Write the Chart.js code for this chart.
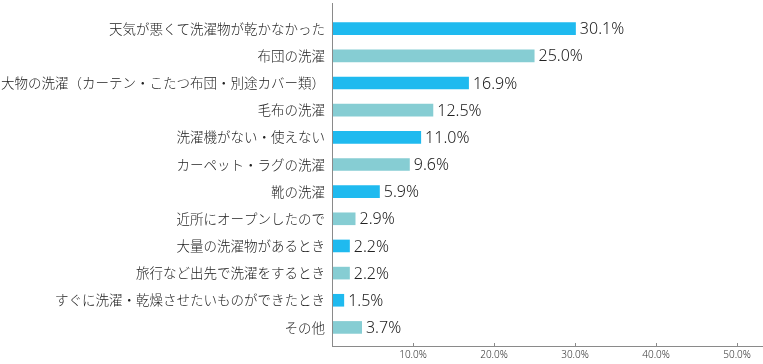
<!DOCTYPE html>
<html>
<head>
<meta charset="utf-8">
<script src="https://cdn.jsdelivr.net/npm/chart.js@4/dist/chart.umd.min.js"></script>
<style>
html,body{margin:0;padding:0;background:#fff;}
#wrap{width:763px;height:364px;position:relative;}
</style>
</head>
<body>
<div id="wrap"><canvas id="c" width="763" height="364"></canvas></div>
<script>
const categories = [
  "天気が悪くて洗濯物が乾かなかった",
  "布団の洗濯",
  "大物の洗濯（カーテン・こたつ布団・別途カバー類）",
  "毛布の洗濯",
  "洗濯機がない・使えない",
  "カーペット・ラグの洗濯",
  "靴の洗濯",
  "近所にオープンしたので",
  "大量の洗濯物があるとき",
  "旅行など出先で洗濯をするとき",
  "すぐに洗濯・乾燥させたいものができたとき",
  "その他"
];
const values = [30.1, 25.0, 16.9, 12.5, 11.0, 9.6, 5.9, 2.9, 2.2, 2.2, 1.5, 3.7];
const tickValues = [10, 20, 30, 40, 50];
const barColors = ["#1FBAEF", "#86CDD3"];

const axisColor = "#8a8a8a";

const axisPlugin = {
  id: "axisLines",
  afterDraw(chart) {
    const ctx = chart.ctx;
    const a = chart.chartArea;
    const xs = chart.scales.x;
    const yAxis = a.bottom + 5;
    ctx.save();
    ctx.strokeStyle = axisColor;
    ctx.lineWidth = 1;
    ctx.beginPath();
    ctx.moveTo(Math.round(a.left) + 0.5, 3);
    ctx.lineTo(Math.round(a.left) + 0.5, yAxis + 0.5);
    ctx.moveTo(a.left, Math.round(yAxis) + 0.5);
    ctx.lineTo(chart.width, Math.round(yAxis) + 0.5);
    tickValues.forEach(v => {
      const px = Math.round(xs.getPixelForValue(v)) + 0.5;
      ctx.moveTo(px, Math.round(yAxis) + 0.5);
      ctx.lineTo(px, Math.round(yAxis) - 3);
    });
    ctx.stroke();
    ctx.restore();
  }
};

const valueLabelPlugin = {
  id: "valueLabels",
  afterDatasetsDraw(chart) {
    const ctx = chart.ctx;
    const meta = chart.getDatasetMeta(0);
    ctx.save();
    ctx.font = "300 16px 'Noto Sans', sans-serif";
    ctx.fillStyle = "#222";
    ctx.textAlign = "left";
    ctx.textBaseline = "middle";
    meta.data.forEach((bar, i) => {
      ctx.fillText(values[i].toFixed(1) + "%", bar.x + 4, bar.y + 1);
    });
    ctx.restore();
  }
};

new Chart(document.getElementById("c"), {
  type: "bar",
  data: {
    labels: categories,
    datasets: [{
      data: values,
      backgroundColor: values.map((_, i) => barColors[i % 2]),
      borderWidth: 0,
      barPercentage: 0.93,
      categoryPercentage: 0.5
    }]
  },
  options: {
    indexAxis: "y",
    responsive: false,
    animation: false,
    devicePixelRatio: 1,
    layout: { padding: { top: 6, bottom: 0, left: 0, right: 0 } },
    plugins: { legend: { display: false }, tooltip: { enabled: false } },
    scales: {
      x: {
        min: 0,
        max: 53.2,
        grid: { display: false, drawTicks: false },
        border: { display: false },
        afterBuildTicks(scale) {
          scale.ticks = tickValues.map(v => ({ value: v }));
        },
        afterFit(scale) { scale.height = 23; },
        ticks: {
          padding: 8,
          color: "#333",
          font: { family: "'Noto Sans', sans-serif", size: 10, weight: 300 },
          callback: v => Number(v).toFixed(1) + "%"
        }
      },
      y: {
        grid: { display: false, drawTicks: false },
        border: { display: false },
        afterFit(scale) { scale.width = 332; },
        ticks: {
          padding: 7,
          color: "#222",
          font: { family: "'Noto Sans CJK JP', sans-serif", size: 13.5, weight: 300 }
        }
      }
    }
  },
  plugins: [axisPlugin, valueLabelPlugin]
});
</script>
</body>
</html>
